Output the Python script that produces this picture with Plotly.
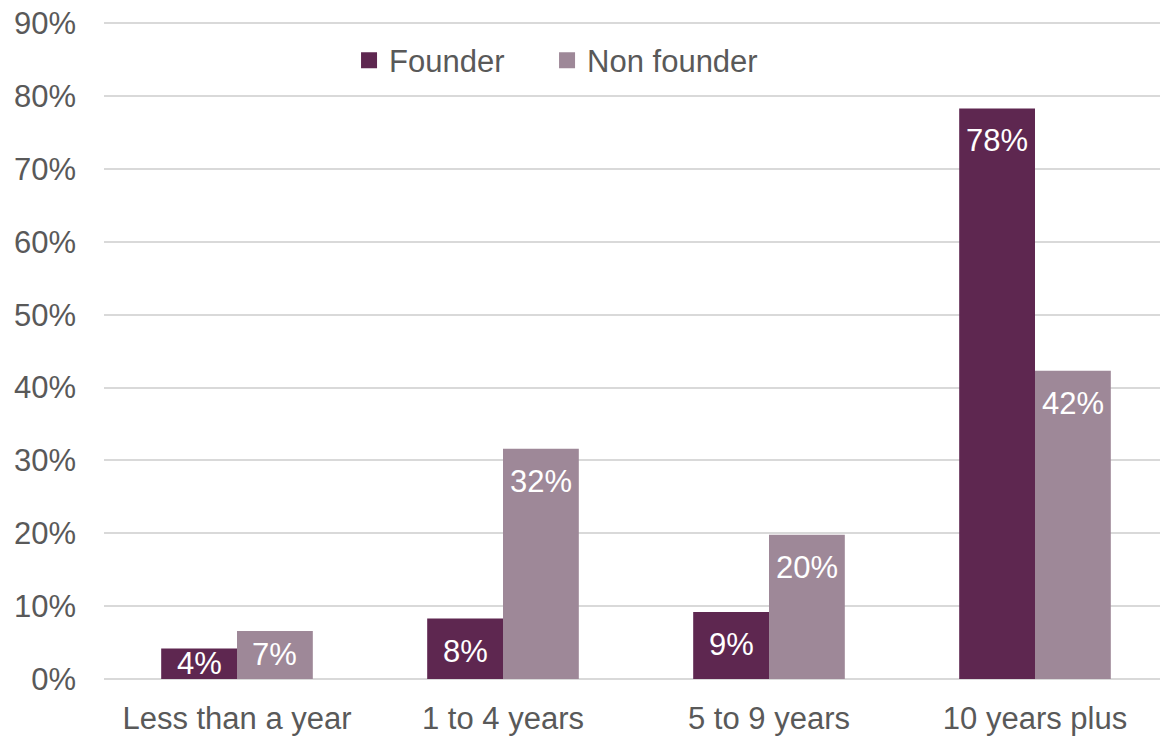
import plotly.graph_objects as go

categories = ['Less than a year', '1 to 4 years', '5 to 9 years', '10 years plus']
founder = [4.2, 8.3, 9.2, 78.3]
non_founder = [6.6, 31.6, 19.8, 42.3]
y_ticks = [0, 10, 20, 30, 40, 50, 60, 70, 80, 90]

FONT = 'Liberation Sans, Arial, sans-serif'
GREY = '#595959'
C_FOUNDER = '#5E2750'
C_NON = '#9E8898'
BARGAP = 0.43

fig = go.Figure()
for name, vals, col, leg in [('Founder', founder, C_FOUNDER, 'legend'),
                             ('Non founder', non_founder, C_NON, 'legend2')]:
    fig.add_trace(go.Bar(x=categories, y=vals, name=name, showlegend=False,
                         marker=dict(color=col, line=dict(width=0))))
    # legend entry with a bigger square, one legend each so the spacing is free
    fig.add_trace(go.Scatter(x=[None], y=[None], mode='markers', name=name, legend=leg,
                             marker=dict(symbol='square', size=16, color=col)))

# value labels, inside end like Excel; short bars get centred
half = (1 - BARGAP) / 4
for sign, vals in [(-1, founder), (1, non_founder)]:
    for i, v in enumerate(vals):
        if v < 8:
            fig.add_annotation(x=i + sign * half, y=v / 2, yanchor='middle',
                               text=f'{v:.0f}%', showarrow=False,
                               font=dict(color='white', size=31, family=FONT))
        else:
            fig.add_annotation(x=i + sign * half, y=v, yanchor='top', yshift=-13,
                               text=f'{v:.0f}%', showarrow=False,
                               font=dict(color='white', size=31, family=FONT))

leg_style = dict(orientation='h', y=0.94, xanchor='left', yanchor='middle',
                 font=dict(size=31, color=GREY), bgcolor='rgba(0,0,0,0)')

# page body has an 8px margin, so the figure is a bit smaller than the window
fig.update_layout(
    width=1160, height=730,
    margin=dict(l=96, r=0, t=13, b=59),
    paper_bgcolor='white', plot_bgcolor='white',
    font=dict(family=FONT, size=31, color=GREY),
    barmode='group', bargap=BARGAP, bargroupgap=0,
    showlegend=True,
    legend=dict(x=0.2303, **leg_style),
    legend2=dict(x=0.4164, **leg_style),
)
# range a touch above 90 so the top gridline is still drawn
fig.update_yaxes(range=[0, 90.3], tickvals=y_ticks, ticktext=[f'{t}%' for t in y_ticks],
                 showgrid=True, gridcolor='#D9D9D9', gridwidth=1.5,
                 zeroline=True, zerolinecolor='#D9D9D9', zerolinewidth=1.5,
                 showline=False, ticklabelstandoff=27, automargin=False,
                 ticklabeloverflow='allow')
fig.update_xaxes(showline=False, showgrid=False, ticklabelstandoff=18, automargin=False,
                 ticklabeloverflow='allow')

fig.write_html('out.html')
